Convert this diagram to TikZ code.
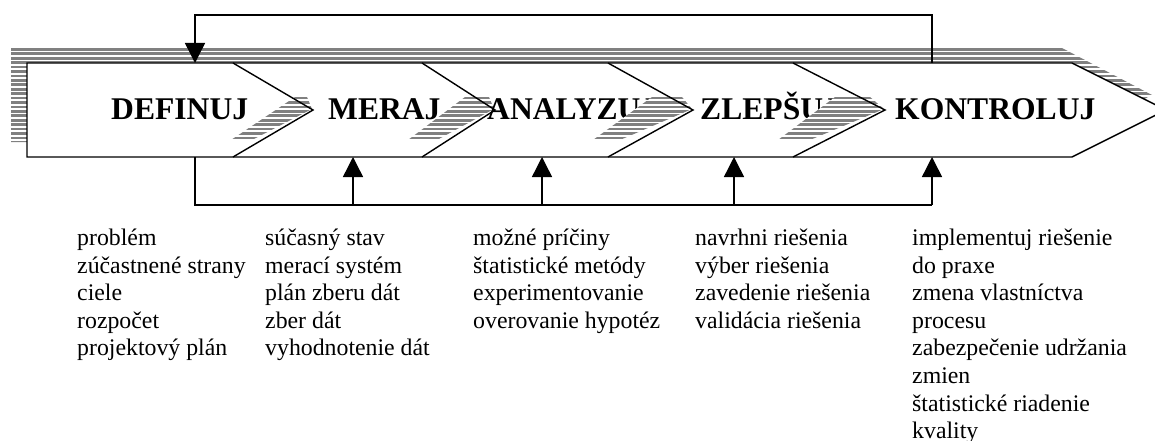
\documentclass[tikz,border=0pt]{standalone}
\usepackage{fontspec}
\setmainfont{Liberation Serif}
\usetikzlibrary{arrows.meta}
\newcommand\hstripes[2]{%
  \foreach \k in {0,...,21}{\fill[stripe] (#1,{48+\k*4.43}) rectangle (#2,{48+\k*4.43+2.7});}}
\begin{document}
\begin{tikzpicture}[x=1pt,y=-1pt,
  stripe/.style={fill=black!50},
  outline/.style={draw=black,line width=1.4pt,line join=miter},
  conn/.style={draw=black,line width=1.4pt},
  arr/.style={conn,-{Triangle[length=20pt,width=20pt]}},
  phase/.style={anchor=base west,inner sep=0pt,font=\fontsize{31.6}{38}\selectfont\bfseries},
  items/.style={anchor=base west,inner sep=0pt,font=\fontsize{23.8}{27.6}\selectfont},
]
\useasboundingbox (0,0) rectangle (1155,441);
\clip (0,0) rectangle (1155,441);
% shadow of the whole arrow
\begin{scope}
  \clip (11,48) -- (1062,48) -- (1152,95) -- (1062,142) -- (11,142) -- cycle;
  \hstripes{0}{1155}
\end{scope}
% main arrow
\draw[outline,fill=white] (27,63) -- (1072,63) -- (1166,110) -- (1072,157) -- (27,157) -- cycle;
% labels and chevron shadows, in drawing order
\node[phase] (l1) at (111,120) {DEFINUJ};
\begin{scope}
  \clip (295,97) -- (307,97) -- (312,109) -- (252,140) -- (231,140) -- cycle;
  \fill[white] (200,90) rectangle (330,145);
  \hstripes{200}{330}
\end{scope}
\node[phase] (l2) at (328,120) {MERAJ};
\begin{scope}
  \clip (465,97) -- (489,97) -- (494,109) -- (437,140) -- (408,140) -- cycle;
  \fill[white] (400,90) rectangle (510,145);
  \hstripes{400}{510}
\end{scope}
\node[phase] (l3) at (487,120) {ANALYZUJ};
\begin{scope}
  \clip (652,97) -- (682,97) -- (692,109) -- (620,140) -- (593,140) -- cycle;
  \fill[white] (585,90) rectangle (700,145);
  \hstripes{585}{700}
\end{scope}
\node[phase] (l4) at (700,120) {ZLEPŠUJ};
\begin{scope}
  \clip (835,97) -- (870,97) -- (884,109) -- (810,140) -- (778,140) -- cycle;
  \fill[white] (770,90) rectangle (890,145);
  \hstripes{770}{890}
\end{scope}
\node[phase] (l5) at (895,120) {KONTROLUJ};
% chevron lines
\draw[outline] (233,63) -- (313,110) -- (233,157);
\draw[outline] (422,63) -- (495,110) -- (422,157);
\draw[outline] (608,63) -- (693,110) -- (608,157);
\draw[outline] (793,63) -- (885,110) -- (793,157);
% feedback connectors
\coordinate (outK) at (932,63);
\coordinate (inD) at (195,63);
\coordinate (topK) at (932,15);
\draw[arr] (outK) -- (topK) -| (inD);
\coordinate (outD) at (195,157);
\coordinate (busL) at (195,205);
\coordinate (busR) at (932,205);
\draw[conn] (outD) -- (busL) -- (busR);
\coordinate (inM) at (353,157);
\coordinate (inA) at (542,157);
\coordinate (inZ) at (734,157);
\coordinate (inK) at (932,157);
\draw[arr] (busL -| inM) -- (inM);
\draw[arr] (busL -| inA) -- (inA);
\draw[arr] (busL -| inZ) -- (inZ);
\draw[arr] (busR) -- (inK);
% item lists
\node[items] (t1) at (77,245.5) {\begin{tabular}[t]{@{}l@{}}problém\\zúčastnené strany\\ciele\\rozpočet\\projektový plán\end{tabular}};
\node[items] (t2) at (265,245.5) {\begin{tabular}[t]{@{}l@{}}súčasný stav\\merací systém\\plán zberu dát\\zber dát\\vyhodnotenie dát\end{tabular}};
\node[items] (t3) at (473,245.5) {\begin{tabular}[t]{@{}l@{}}možné príčiny\\štatistické metódy\\experimentovanie\\overovanie hypotéz\end{tabular}};
\node[items] (t4) at (695,245.5) {\begin{tabular}[t]{@{}l@{}}navrhni riešenia\\výber riešenia\\zavedenie riešenia\\validácia riešenia\end{tabular}};
\node[items] (t5) at (912,245.5) {\begin{tabular}[t]{@{}l@{}}implementuj riešenie\\do praxe\\zmena vlastníctva\\procesu\\zabezpečenie udržania\\zmien\\štatistické riadenie\\kvality\end{tabular}};
\end{tikzpicture}
\end{document}
